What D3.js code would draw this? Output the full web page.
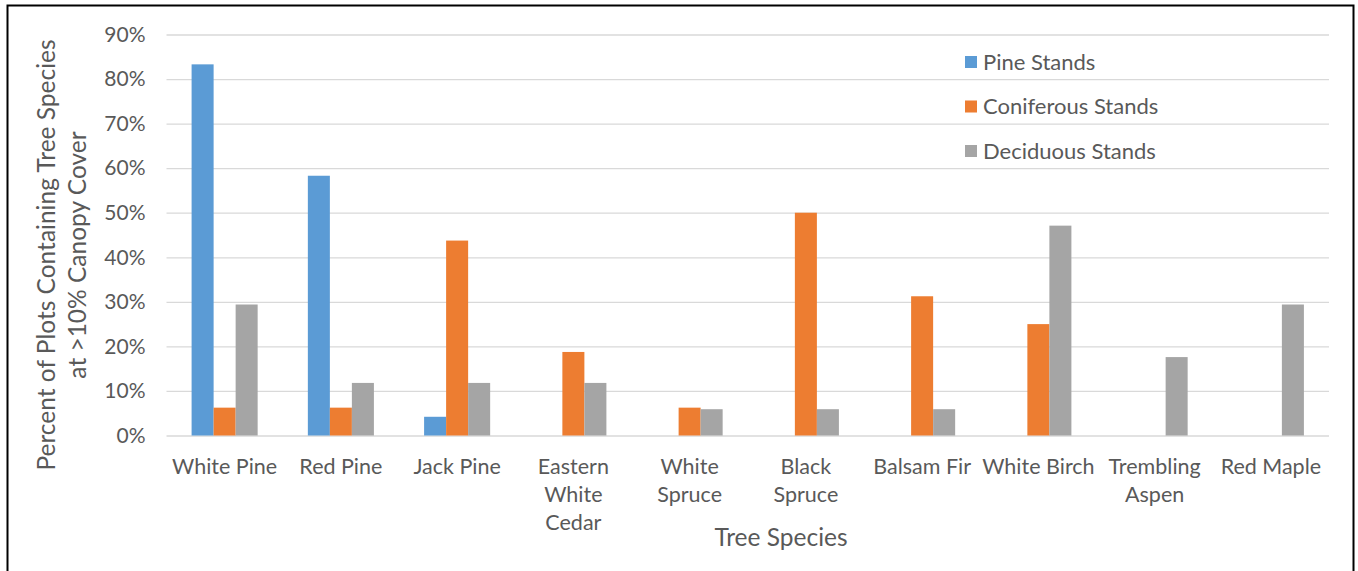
<!DOCTYPE html>
<html>
<head>
<meta charset="utf-8">
<script src="https://cdn.jsdelivr.net/npm/d3@7"></script>
<style>
  body { margin: 0; background: #fff; }
  svg { display: block; }
</style>
</head>
<body>
<div id="chart"></div>
<script>
'use strict';

// species along the x axis, each label split in lines like the original
var categories = ["White Pine", "Red Pine", "Jack Pine", "Eastern White Cedar", "White Spruce",
                  "Black Spruce", "Balsam Fir", "White Birch", "Trembling Aspen", "Red Maple"];
var categoryLines = [["White Pine"], ["Red Pine"], ["Jack Pine"], ["Eastern", "White", "Cedar"], ["White", "Spruce"],
                     ["Black", "Spruce"], ["Balsam Fir"], ["White Birch"], ["Trembling", "Aspen"], ["Red Maple"]];

var seriesNames = ["Pine Stands", "Coniferous Stands", "Deciduous Stands"];
var seriesColors = ["#5B9BD5", "#ED7D31", "#A5A5A5"];

// percent of plots
var pineStands       = [83.3, 58.3, 4.2, 0, 0, 0, 0, 0, 0, 0];
var coniferousStands = [6.25, 6.25, 43.75, 18.75, 6.25, 50, 31.25, 25, 0, 0];
var deciduousStands  = [29.4, 11.8, 11.8, 11.8, 5.9, 5.9, 5.9, 47.1, 17.6, 29.4];

var yTicks = [0, 10, 20, 30, 40, 50, 60, 70, 80, 90];

var width = 1358, height = 571,
    margin = ({top: 34.5, right: 29, bottom: 135.5, left: 166.5});

var textColor = "#595959",
    font = "Lato, 'Open Sans', sans-serif";

var svg = d3.select("#chart").append("svg")
    .attr("width", width)
    .attr("height", height)
    .attr("viewBox", [0, 0, width, height]);

// outer frame
svg.append("rect")
    .attr("x", 7.5).attr("y", 5.5)
    .attr("width", 1346).attr("height", 600)
    .attr("fill", "none")
    .attr("stroke", "#000")
    .attr("stroke-width", 2);

var x = d3.scaleBand()
    .domain(categories)
    .range([margin.left, width - margin.right]);

var x1 = d3.scaleBand()
    .domain(seriesNames)
    .range([0, x.bandwidth()])
    .paddingInner(0)
    .paddingOuter(1.14);

var y = d3.scaleLinear()
    .domain([0, 90])
    .range([height - margin.bottom, margin.top]);

// gridlines + tick labels
var yAxis = g => g
    .attr("transform", `translate(${margin.left},0)`)
    .call(d3.axisLeft(y).tickValues(yTicks).tickSize(-(width - margin.left - margin.right)).tickFormat(d => d + "%"))
    .call(g => g.select(".domain").remove())
    .call(g => g.selectAll(".tick line").attr("stroke", "#D9D9D9").attr("stroke-width", 1.3))
    .call(g => g.selectAll(".tick text")
        .attr("x", -21)
        .attr("fill", textColor)
        .attr("font-family", font)
        .attr("font-size", "21px"));

svg.append("g").call(yAxis);

var data = categories.map((c, i) => ({
  name: c,
  values: [pineStands[i], coniferousStands[i], deciduousStands[i]]
}));

var groups = svg.append("g")
  .selectAll("g")
  .data(data)
  .join("g")
    .attr("transform", d => "translate(" + x(d.name) + ",0)");

groups.selectAll("rect")
  .data(d => d.values.map((v, j) => ({series: seriesNames[j], value: v, color: seriesColors[j]})))
  .join("rect")
    .filter(d => d.value > 0)
    .attr("x", d => x1(d.series))
    .attr("y", d => y(d.value))
    .attr("width", x1.bandwidth())
    .attr("height", d => y(0) - y(d.value))
    .attr("fill", d => d.color);

// category labels
var labels = svg.append("g")
    .attr("font-family", font)
    .attr("font-size", "21.5px")
    .attr("fill", textColor)
    .attr("text-anchor", "middle");

labels.selectAll("text")
  .data(categories)
  .join("text")
    .attr("x", d => x(d) + x.bandwidth() / 2)
    .attr("y", 474)
    .selectAll("tspan")
    .data((d, i) => categoryLines[i])
    .join("tspan")
      .attr("x", function() { return this.parentNode.getAttribute("x"); })
      .attr("dy", (d, i) => i == 0 ? 0 : 28)
      .text(d => d);

// axis titles
svg.append("text")
    .attr("x", 781)
    .attr("y", 546)
    .attr("text-anchor", "middle")
    .attr("font-family", font)
    .attr("font-size", "24.5px")
    .attr("fill", textColor)
    .text("Tree Species");

var yTitle = svg.append("text")
    .attr("transform", "translate(55,255) rotate(-90)")
    .attr("text-anchor", "middle")
    .attr("font-family", font)
    .attr("font-size", "24.5px")
    .attr("fill", textColor);
yTitle.append("tspan").attr("x", 0).attr("dy", 0).text("Percent of Plots Containing Tree Species");
yTitle.append("tspan").attr("x", 0).attr("dy", 31).text("at >10% Canopy Cover");

// legend
var legend = svg.append("g")
  .selectAll("g")
  .data(seriesNames)
  .join("g")
    .attr("transform", (d, i) => "translate(965," + (62 + i * 44.5) + ")");

legend.append("rect")
    .attr("x", 0).attr("y", -6)
    .attr("width", 12).attr("height", 12)
    .attr("fill", (d, i) => seriesColors[i]);

legend.append("text")
    .attr("x", 18)
    .attr("dy", "0.35em")
    .attr("font-family", font)
    .attr("font-size", "22px")
    .attr("fill", textColor)
    .text(d => d);
</script>
</body>
</html>
